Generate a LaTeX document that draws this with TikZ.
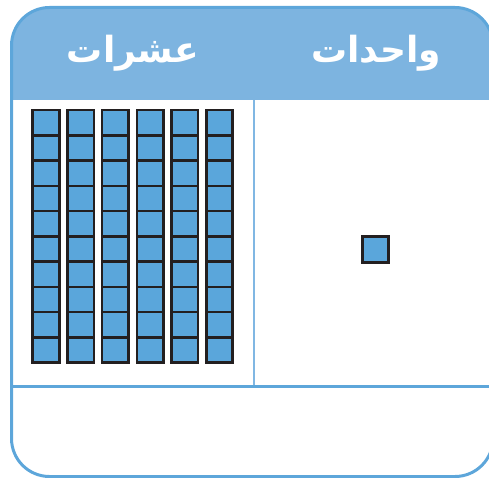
\documentclass[tikz,border=0pt]{standalone}
\usepackage{fontspec}
\newfontfamily\arabicfont[Script=Arabic]{DejaVu Sans}
\TeXXeTstate=1
\definecolor{headblue}{HTML}{7DB4E0}
\definecolor{lineblue}{HTML}{5DA6DA}
\definecolor{divblue}{HTML}{80B7E3}
\definecolor{cellblue}{HTML}{5AA6DB}
\definecolor{celledge}{HTML}{231F20}
\tikzset{
  cellbox/.style={draw=celledge, line width=2.6pt, fill=cellblue, minimum width=26.5pt, minimum height=25.27pt, inner sep=0pt, outer sep=0pt},
  unitbox/.style={draw=celledge, line width=2.6pt, fill=cellblue, minimum width=25.5pt, minimum height=25.5pt, inner sep=0pt},
  headtext/.style={text=white, font=\arabicfont\bfseries\fontsize{36}{40}\selectfont, inner sep=0pt, anchor=base}
}
\begin{document}
\begin{tikzpicture}[x=1pt,y=-1pt]
\useasboundingbox (0,0) rectangle (489,478);
\clip (0,0) rectangle (489,478);
% header band
\fill[headblue] (11.5,100) [rounded corners=38pt] -- (11.5,7.5) -- (493,7.5) [sharp corners] -- (493,100) -- cycle;
% divider lines
\coordinate (vtop) at (254,100);
\coordinate (vbot) at (254,386.5);
\coordinate (hl) at (11.5,386.5);
\coordinate (hr) at (493,386.5);
\draw[divblue, line width=2pt] (vtop) -- (vbot);
\draw[lineblue, line width=2.5pt] (hl) -- (hr);
% outer frame
\draw[lineblue, line width=3pt, rounded corners=38pt] (11.5,7.5) rectangle (493,476.5);
% header texts
\node[headtext] (tens) at (133,63) {\beginR عشرات\endR};
\node[headtext] (ones) at (376,63) {\beginR واحدات\endR};
% tens rods
\foreach \c in {0,...,5}{
  \foreach \r in {0,...,9}{
    \node[cellbox] (t\c-\r) at ({46+34.7*\c},{110+12.635+25.27*\r}) {};
  }
}
% unit cube
\node[unitbox] (u) at (375.5,249.5) {};
\end{tikzpicture}
\end{document}
